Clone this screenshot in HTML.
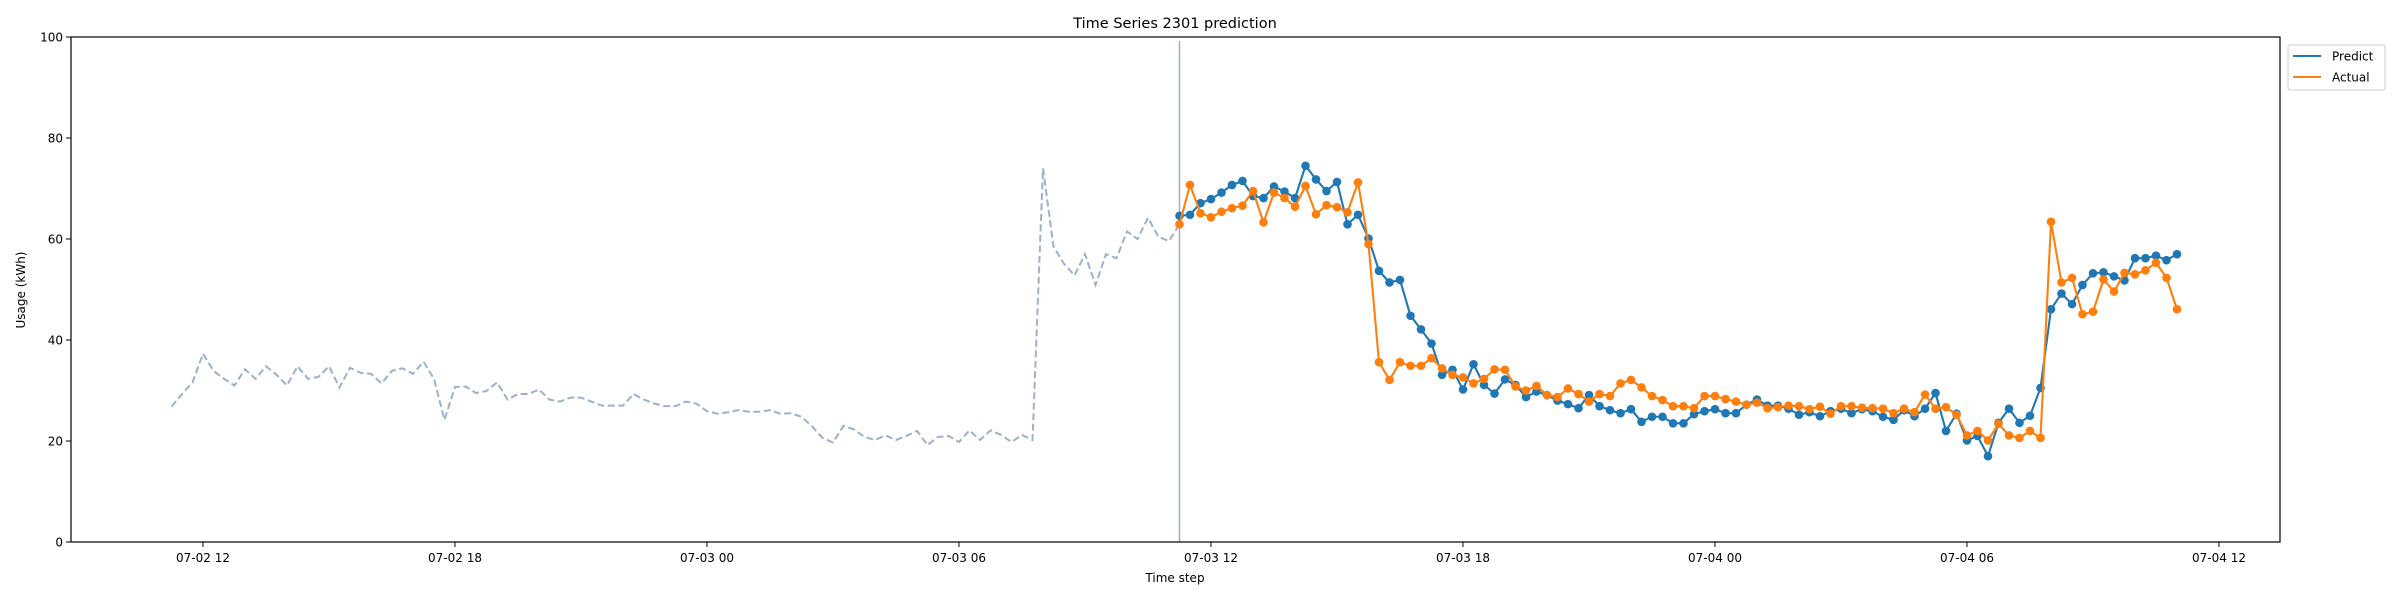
<!DOCTYPE html>
<html><head><meta charset="utf-8"><style>
body{margin:0;background:#fff;}
svg{display:block;font-family:"DejaVu Sans","Liberation Sans",sans-serif;}
</style></head><body>
<svg id="chart" width="2400" height="600" viewBox="0 0 2400 600">
<rect width="2400" height="600" fill="#fff"/>
<text x="1175" y="28" font-size="14.5" text-anchor="middle" fill="#000">Time Series 2301 prediction</text>
<g id="plot"></g>
<text x="1175" y="582" font-size="12" text-anchor="middle">Time step</text>
<text transform="translate(25,290) rotate(-90)" font-size="12" text-anchor="middle">Usage (kWh)</text>
<g>
<rect x="2288" y="45" width="97" height="45" rx="2" fill="#fff" stroke="#ccc"/>
<line x1="2293" y1="56" x2="2321" y2="56" stroke="#1f77b4" stroke-width="2.1"/>
<text x="2332" y="60.5" font-size="12">Predict</text>
<line x1="2293" y1="77" x2="2321" y2="77" stroke="#ff7f0e" stroke-width="2.1"/>
<text x="2332" y="81.5" font-size="12">Actual</text>
</g>
</svg>
<script>
const history = [26.8,29.3,31.6,37.3,33.9,32.3,31,34.2,32.3,34.8,33.1,31,34.8,32.3,32.7,34.8,30.6,34.5,33.5,33.3,31.4,33.9,34.4,33.3,35.7,32.3,24.2,30.7,30.8,29.5,29.9,31.6,28.2,29.3,29.3,30.2,28.2,27.8,28.6,28.6,27.8,27,27,27,29.3,28.2,27.4,26.9,26.9,27.8,27.4,25.9,25.4,25.7,26.1,25.8,25.8,26.1,25.4,25.5,24.8,22.9,20.6,19.7,23,22.3,20.8,20.2,21.1,20.2,21,22,19.2,20.8,21,19.8,22.1,20.2,22.1,21.2,19.8,21.2,20.2,74,58.5,55.1,52.8,57,50.9,57,56.2,61.5,60,64.2,60.4,59.6,62.9];
const predict = [64.6,64.8,67.1,67.9,69.2,70.7,71.5,68.5,68.1,70.4,69.4,68.1,74.5,71.8,69.5,71.3,62.9,64.8,60.1,53.7,51.4,51.9,44.8,42.1,39.3,33.1,34.1,30.2,35.2,31.1,29.4,32.2,31.1,28.7,29.8,29.1,28,27.3,26.5,29.1,26.9,26.1,25.5,26.3,23.8,24.8,24.8,23.5,23.5,25.3,25.9,26.3,25.5,25.5,27.2,28.2,27,27,26.4,25.2,25.7,24.9,25.9,26.4,25.5,26.3,25.9,24.8,24.2,26.1,24.9,26.4,29.5,22,25.4,20.1,21,17,23.6,26.4,23.6,25,30.5,46.1,49.2,47.1,50.9,53.2,53.4,52.6,51.8,56.2,56.2,56.7,55.8,57];
const actual = [62.9,70.7,65.1,64.3,65.4,66.1,66.6,69.5,63.3,69.2,68.1,66.4,70.5,64.9,66.7,66.3,65.3,71.2,59,35.6,32.1,35.6,34.9,34.9,36.4,34.4,33.1,32.6,31.4,32.3,34.2,34.1,30.8,30,30.9,29.1,28.7,30.4,29.3,27.8,29.3,28.9,31.4,32.1,30.6,28.9,28.1,26.9,26.9,26.5,28.9,28.9,28.3,27.8,27.2,27.6,26.5,26.7,27,26.9,26.3,26.8,25.4,26.9,26.9,26.6,26.5,26.4,25.5,26.4,25.7,29.2,26.4,26.7,25.2,21.1,22,20.1,23.4,21.1,20.6,22,20.6,63.4,51.4,52.3,45.1,45.6,52,49.6,53.3,53,53.8,55.3,52.3,46.1];
const yTicks = [0,20,40,60,80,100];
const xTickLabels = ["07-02 12","07-02 18","07-03 00","07-03 06","07-03 12","07-03 18","07-04 00","07-04 06","07-04 12"];
const xTickHours = [12,18,24,30,36,42,48,54,60]; // hours since 07-02 00
const historyStartHour = 11.25; // 07-02 11:15
const forecastStartHour = 35.25; // 07-03 11:15
const stepHours = 0.25;

const L=71,R=2280,T=37,B=542;
const hourToX = h => 203 + (h-12)*42;
const y = v => B - (v/100)*(B-T);
const NS='http://www.w3.org/2000/svg';
const plot=document.getElementById('plot');
function mk(tag,attrs,parent){const e=document.createElementNS(NS,tag);for(const k in attrs)e.setAttribute(k,attrs[k]);(parent||plot).appendChild(e);return e;}

yTicks.forEach(t=>{
  const g=mk('g',{});
  
  
  mk('line',{x1:L-5,x2:L,y1:y(t),y2:y(t),stroke:'#000','stroke-width':1},g);
  const tx=mk('text',{x:L-8,y:y(t)+4.5,'font-size':12,'text-anchor':'end'},g);
  tx.textContent=t;
});
xTickLabels.forEach((lab,i)=>{
  const g=mk('g',{});
  
  
  const x=hourToX(xTickHours[i]);
  mk('line',{x1:x,x2:x,y1:B,y2:B+5,stroke:'#000','stroke-width':1},g);
  const tx=mk('text',{x:x,y:B+20,'font-size':12,'text-anchor':'middle'},g);
  tx.textContent=lab;
});

const hpts=history.map((v,i)=>[hourToX(historyStartHour+i*stepHours),y(v)]);
const hl=mk('polyline',{points:hpts.map(p=>p.join(',')).join(' '),fill:'none',stroke:'#9db1cb','stroke-width':2,'stroke-dasharray':'7,3.5'});



const vx=hourToX(forecastStartHour);
const vl=mk('line',{x1:vx,x2:vx,y1:41,y2:B,stroke:'#9fadd0','stroke-width':1.5});



function series(data,color,name){
  const g=mk('g',{});
  
  
  const pts=data.map((v,i)=>[hourToX(forecastStartHour+i*stepHours),y(v)]);
  const pl=mk('polyline',{points:pts.map(p=>p.join(',')).join(' '),fill:'none',stroke:color,'stroke-width':2.1},g);
  
  
  pts.forEach(p=>{
    const c=mk('circle',{cx:p[0],cy:p[1],r:4.3,fill:color},g);
    
    
  });
}
series(predict,'#1f77b4','predict');
series(actual,'#ff7f0e','actual');

const frame=mk('rect',{x:L,y:T,width:R-L,height:B-T,fill:'none',stroke:'#000','stroke-width':1.2});


</script>
</body></html>
